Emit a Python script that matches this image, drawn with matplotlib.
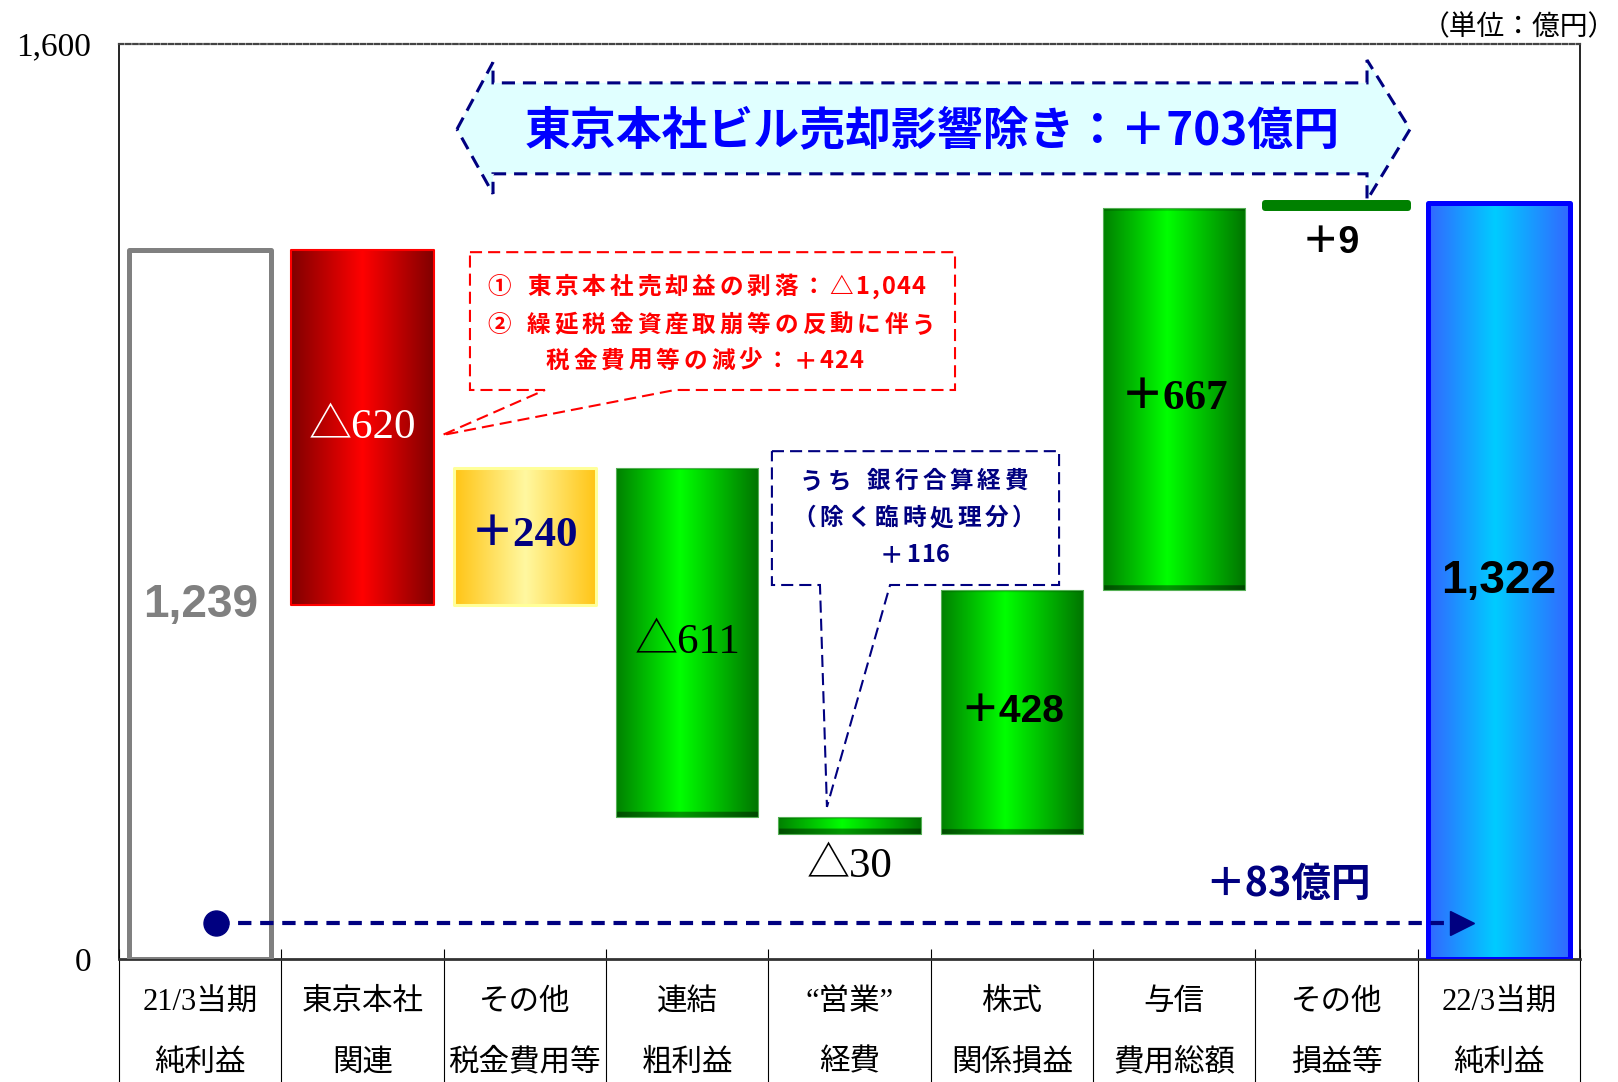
import unicodedata
import numpy as np
import matplotlib
matplotlib.use("Agg")
import matplotlib.pyplot as plt
from matplotlib.colors import LinearSegmentedColormap
from matplotlib.patches import Polygon

plt.rcParams['font.family'] = ['Noto Sans CJK JP', 'DejaVu Sans']

# ---- data (億円) ----
cat_line1 = ['21/3当期', '東京本社', 'その他', '連結', '“営業”', '株式', '与信', 'その他', '22/3当期']
cat_line2 = ['純利益', '関連', '税金費用等', '粗利益', '経費', '関係損益', '費用総額', '損益等', '純利益']
start_value = 1239
changes = [-620, 240, -611, -30, 428, 667, 9]
end_value = 1322
y_ticks = [0, 1600]
y_tick_labels = ['0', '1,600']

banner_text = '東京本社ビル売却影響除き：＋703億円'
red_note = ['① 東京本社売却益の剥落：△1,044',
            '② 繰延税金資産取崩等の反動に伴う',
            '税金費用等の減少：＋424']
navy_note = ['うち 銀行合算経費', '（除く臨時処理分）', '＋116']
unit_text = '（単位：億円）'

SERIF = ['Liberation Serif', 'Noto Sans CJK JP']
SANS = ['Liberation Sans', 'Noto Sans CJK JP']
NAVY = '#000080'

# ---- waterfall geometry ----
n = len(cat_line1)
bottoms, heights = [0], [start_value]
level = start_value
for c in changes:
    new = level + c
    bottoms.append(min(level, new))
    heights.append(abs(c))
    level = new
bottoms.append(0)
heights.append(end_value)


def fmt(v, signed):
    if not signed:
        return f'{v:,}'
    return ('＋' if v > 0 else '△') + f'{abs(v):,}'


labels = [fmt(start_value, False)] + [fmt(c, True) for c in changes] + [fmt(end_value, False)]

fig = plt.figure(figsize=(16.18, 10.82), dpi=100)
ax = fig.add_axes([119 / 1618, 123 / 1082, 1461 / 1618, 915 / 1082])
ax.set_xlim(-0.5, n - 0.5)
ax.set_ylim(0, 1600)

x = np.arange(n)
width = 0.875

edge_colors = ['#808080', '#FF0000', '#FFFF99', '#55B055', '#55B055', '#55B055', '#55B055', '#008000', '#0000FF']
edge_widths = [3.6, 1.5, 2.2, 0.8, 0.8, 0.8, 0.8, 4.3, 3.6]
face_colors = ['white', 'none', 'none', 'none', 'none', 'none', 'none', '#008000', 'none']

bars = ax.bar(x, heights, width=width, bottom=bottoms, zorder=3)
for b, fc, ec, lw in zip(bars, face_colors, edge_colors, edge_widths):
    b.set_facecolor(fc)
    b.set_edgecolor(ec)
    b.set_linewidth(lw)
    b.set_joinstyle('round')

gradients = {
    1: ([0, 0.5, 1], ['#800000', '#FF0000', '#800000']),
    2: ([0, 0.5, 1], ['#FFC414', '#FFF8A0', '#FFC414']),
    3: ([0, 0.45, 1], ['#008000', '#00FF00', '#007400']),
    4: ([0, 0.45, 1], ['#008000', '#00FF00', '#007400']),
    5: ([0, 0.45, 1], ['#008000', '#00FF00', '#007400']),
    6: ([0, 0.45, 1], ['#008000', '#00FF00', '#007400']),
    8: ([0, 0.47, 1], ['#3366FF', '#00CCFF', '#3366FF']),
}
bevel = {3, 4, 5, 6}

for i, (stops, cols) in gradients.items():
    b = bars[i]
    cmap = LinearSegmentedColormap.from_list(f'g{i}', list(zip(stops, cols)))
    rgb = cmap(np.linspace(0, 1, 256))[:, :3]
    rows = 400
    img = np.tile(rgb, (rows, 1, 1))
    x0, y0, w, h = b.get_x(), b.get_y(), b.get_width(), b.get_height()
    if i in bevel:
        ys = y0 + (np.arange(rows) + 0.5) / rows * h
        shade = np.ones(rows)
        shade[ys - y0 < 9] = 0.6
        shade[(y0 + h) - ys < 5] = 0.82
        img = img * shade[:, None, None]
    im = ax.imshow(img, extent=[x0, x0 + w, y0, y0 + h], origin='lower',
                   aspect='auto', interpolation='bilinear', zorder=2)
    im.set_clip_path(b)

# ---- bar value labels ----
label_styles = [
    dict(color='#808080', family=SANS, fontweight='bold', fontsize=33),
    dict(color='white', family=SERIF, fontsize=31),
    dict(color=NAVY, family=SERIF, fontweight='bold', fontsize=31),
    dict(color='black', family=SERIF, fontsize=31),
    dict(color='black', family=SERIF, fontsize=31),
    dict(color='black', family=SANS, fontweight='bold', fontsize=28),
    dict(color='black', family=SERIF, fontweight='bold', fontsize=31),
    dict(color='black', family=SANS, fontweight='bold', fontsize=27),
    dict(color='black', family=SANS, fontweight='bold', fontsize=33),
]
below = {4: -23, 7: -25}
for i, (lab, st) in enumerate(zip(labels, label_styles)):
    if i in below:
        ax.annotate(lab, xy=(x[i], bottoms[i]), xytext=(-4 if i == 7 else 0, below[i]),
                    textcoords='offset points', ha='center', va='center', zorder=6, **st)
    else:
        ax.text(x[i], bottoms[i] + heights[i] / 2, lab, ha='center', va='center', zorder=6, **st)

# ---- axes styling ----
ax.set_yticks(y_ticks)
ax.set_yticklabels(y_tick_labels, family=SERIF, fontsize=24)
ax.tick_params(axis='y', length=0, pad=20)
ax.tick_params(axis='x', length=0, labelbottom=False)
ax.set_xticks([])
ax.spines['top'].set_linestyle((0, (2.0, 1.2)))
ax.spines['top'].set_color('#444444')
ax.spines['top'].set_linewidth(1.6)
ax.spines['bottom'].set_color('#333333')
ax.spines['bottom'].set_linewidth(2)
ax.spines['left'].set_linewidth(1.2)
ax.spines['right'].set_linewidth(1.2)

# category table below the axis
ax.vlines(np.arange(n + 1) - 0.5, -0.2, 0.011, transform=ax.get_xaxis_transform(),
          colors='black', lw=0.8, clip_on=False)
for i in range(n):
    ax.text(x[i], -0.048, cat_line1[i], transform=ax.get_xaxis_transform(), ha='center',
            va='center', fontsize=22, family=SERIF, clip_on=False)
    ax.text(x[i], -0.1137, cat_line2[i], transform=ax.get_xaxis_transform(), ha='center',
            va='center', fontsize=22, family=SERIF, clip_on=False)


# ---- letter-spaced text helper ----
def char_units(c):
    if c == ' ':
        return 0.45
    if c == ',':
        return 0.4
    if unicodedata.east_asian_width(c) in ('W', 'F', 'A'):
        return 1.0
    return 0.55


def spaced_text(xd, yd, s, pitch, align='left', **kw):
    units = [char_units(c) for c in s]
    total = sum(units) * pitch
    off = 0.0 if align == 'left' else -total / 2
    for c, u in zip(s, units):
        if c != ' ':
            ax.annotate(c, xy=(xd, yd), xytext=(off + u * pitch / 2, 0), textcoords='offset points',
                        ha='center', va='center', zorder=7, **kw)
        off += u * pitch


# ---- banner: total excluding the head-office building sale ----
bx_l, bx_r = 1.804, 7.188
tip_l, tip_r = 1.582, 7.453
b_mid, b_top, b_bot = 1451, 1532, 1373
h_top_l, h_bot_l, h_top_r, h_bot_r = 1568, 1338, 1572, 1327
banner = Polygon([(tip_l, b_mid), (bx_l, h_top_l), (bx_l, b_top), (bx_r, b_top), (bx_r, h_top_r),
                  (tip_r, b_mid), (bx_r, h_bot_r), (bx_r, b_bot), (bx_l, b_bot), (bx_l, h_bot_l)],
                 closed=True, facecolor='#E0FFFF', edgecolor=NAVY, lw=2.2,
                 linestyle=(0, (4.3, 2.6)), zorder=4)
ax.add_patch(banner)
ax.text(4.508, 1448, banner_text, ha='center', va='center', fontsize=33, fontweight='bold',
        color='#0000FF', zorder=7)

# ---- red callout on the head-office bar ----
red_box = Polygon([(1.662, 1236), (4.650, 1236), (4.650, 995), (2.925, 995), (1.49, 916),
                   (2.124, 995), (1.662, 995)], closed=True, facecolor='white',
                  edgecolor='#FF0000', lw=1.5, linestyle=(0, (5.8, 2.9)), zorder=4)
ax.add_patch(red_box)
note_kw = dict(fontweight='bold', fontsize=17)
spaced_text(1.755, 1175, red_note[0], 19.8, color='#FF0000', **note_kw)
spaced_text(1.755, 1109, red_note[1], 19.8, color='#FF0000', **note_kw)
spaced_text(2.118, 1046, red_note[2], 19.8, color='#FF0000', **note_kw)

# ---- navy callout on operating expenses ----
navy_box = Polygon([(3.522, 888), (5.291, 888), (5.291, 654), (4.250, 654), (3.861, 266),
                    (3.818, 654), (3.522, 654)], closed=True, facecolor='white',
                   edgecolor=NAVY, lw=1.5, linestyle=(0, (5.8, 2.9)), zorder=4)
ax.add_patch(navy_box)
for yy, s in zip([836, 771, 706], navy_note):
    spaced_text(4.397, yy, s, 19.8, align='center', color=NAVY, **note_kw)

# ---- overall change arrow ----
arrow_y = 63
ax.plot([0.1, 7.77], [arrow_y, arrow_y], color=NAVY, lw=3, linestyle=(0, (3.2, 2.1)), zorder=5)
ax.plot([0.1], [arrow_y], marker='o', markersize=18, color=NAVY, zorder=6)
ax.plot([7.773], [arrow_y], marker='>', markersize=17, color=NAVY, zorder=6)
ax.text(6.70, 131, '＋' + f'{end_value - start_value}' + '億円', ha='center', va='center',
        fontsize=28.5, fontweight='bold', color=NAVY, zorder=7)

fig.text(1616 / 1618, 1 - 27 / 1082, unit_text, ha='right', va='center', fontsize=20)

fig.savefig('out.png', dpi=100)
